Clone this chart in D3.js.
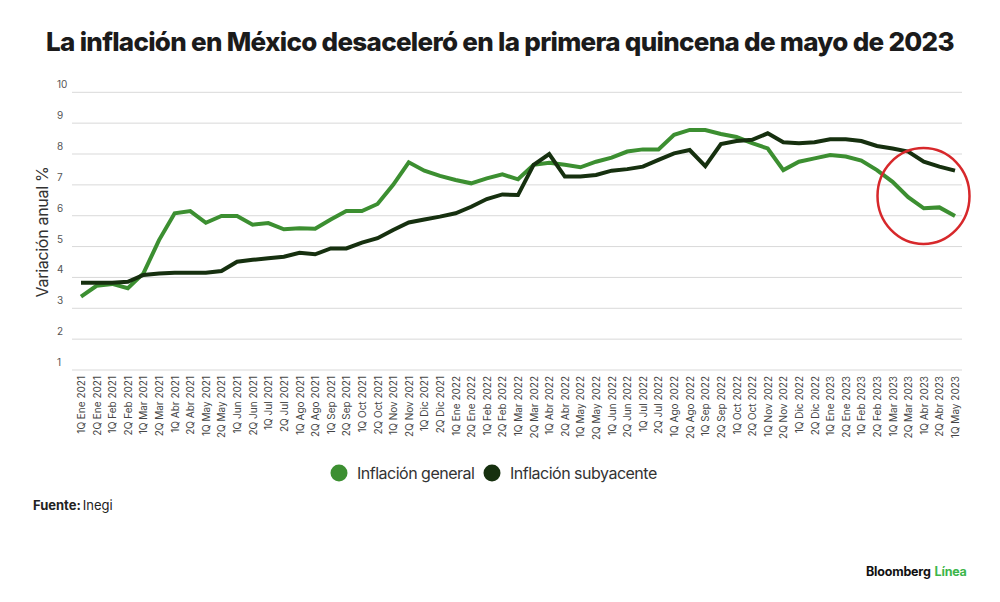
<!DOCTYPE html>
<html>
<head>
<meta charset="utf-8">
<script src="https://cdn.jsdelivr.net/npm/d3@7"></script>
<style>
  body { margin: 0; background: #fff; }
  svg { font-family: "Inter", "Roboto", sans-serif; }
</style>
</head>
<body>
<div id="chart"></div>
<script>
// data (annual % change, fortnightly)
var periods = [
  "1Q Ene 2021", "2Q Ene 2021", "1Q Feb 2021", "2Q Feb 2021", "1Q Mar 2021", "2Q Mar 2021",
  "1Q Abr 2021", "2Q Abr 2021", "1Q May 2021", "2Q May 2021", "1Q Jun 2021", "2Q Jun 2021",
  "1Q Jul 2021", "2Q Jul 2021", "1Q Ago 2021", "2Q Ago 2021", "1Q Sep 2021", "2Q Sep 2021",
  "1Q Oct 2021", "2Q Oct 2021", "1Q Nov 2021", "2Q Nov 2021", "1Q Dic 2021", "2Q Dic 2021",
  "1Q Ene 2022", "2Q Ene 2022", "1Q Feb 2022", "2Q Feb 2022", "1Q Mar 2022", "2Q Mar 2022",
  "1Q Abr 2022", "2Q Abr 2022", "1Q May 2022", "2Q May 2022", "1Q Jun 2022", "2Q Jun 2022",
  "1Q Jul 2022", "2Q Jul 2022", "1Q Ago 2022", "2Q Ago 2022", "1Q Sep 2022", "2Q Sep 2022",
  "1Q Oct 2022", "2Q Oct 2022", "1Q Nov 2022", "2Q Nov 2022", "1Q Dic 2022", "2Q Dic 2022",
  "1Q Ene 2023", "2Q Ene 2023", "1Q Feb 2023", "2Q Feb 2023", "1Q Mar 2023", "2Q Mar 2023",
  "1Q Abr 2023", "2Q Abr 2023", "1Q May 2023"
];

var general = [
  3.38, 3.73, 3.79, 3.65, 4.13, 5.21, 6.08, 6.15, 5.77, 5.99, 5.99, 5.71,
  5.76, 5.56, 5.59, 5.58, 5.88, 6.15, 6.15, 6.38, 7.00, 7.73, 7.46, 7.29,
  7.16, 7.05, 7.21, 7.34, 7.18, 7.65, 7.72, 7.65, 7.57, 7.75, 7.88, 8.08,
  8.15, 8.15, 8.62, 8.78, 8.78, 8.65, 8.55, 8.35, 8.18, 7.48, 7.75, 7.86,
  7.97, 7.92, 7.79, 7.48, 7.10, 6.60, 6.24, 6.27, 5.99
];

var subyacente = [
  3.83, 3.83, 3.83, 3.86, 4.08, 4.13, 4.15, 4.15, 4.15, 4.21, 4.51, 4.57,
  4.62, 4.67, 4.80, 4.75, 4.94, 4.94, 5.13, 5.27, 5.54, 5.78, 5.88, 5.97,
  6.08, 6.29, 6.54, 6.69, 6.67, 7.65, 8.00, 7.27, 7.27, 7.32, 7.46, 7.51,
  7.59, 7.81, 8.02, 8.13, 7.61, 8.32, 8.42, 8.46, 8.67, 8.38, 8.35, 8.38,
  8.48, 8.48, 8.42, 8.26, 8.18, 8.08, 7.75, 7.59, 7.46
];

var yTicks = [1, 2, 3, 4, 5, 6, 7, 8, 9, 10];

var seriesNames = ["Inflación general", "Inflación subyacente"];
var seriesColors = ["#3c8f31", "#16300f"];

var svgWidth = 1000;
var svgHeight = 602;

var svg = d3.select("#chart")
  .append("svg")
  .attr("width", svgWidth)
  .attr("height", svgHeight);

// title
svg.append("text")
  .attr("x", 500)
  .attr("y", 51)
  .attr("text-anchor", "middle")
  .attr("font-size", 26)
  .attr("font-weight", 800)
  .attr("letter-spacing", -0.7)
  .attr("fill", "#1b1b1b")
  .text("La inflación en México desaceleró en la primera quincena de mayo de 2023");

// scales
var xScale = d3.scalePoint()
  .domain(periods)
  .range([81, 955]);

var yScale = d3.scaleLinear()
  .domain([1, 10])
  .range([370, 92.3]);

// grid lines
var grid = svg.append("g");
grid.selectAll("line")
  .data(yTicks)
  .enter()
  .append("line")
  .attr("x1", 72)
  .attr("x2", 962)
  .attr("y1", d => yScale(d))
  .attr("y2", d => yScale(d))
  .attr("stroke", "#d9d9d9")
  .attr("stroke-width", 1);

// y tick labels sit above each grid line
grid.selectAll("text")
  .data(yTicks)
  .enter()
  .append("text")
  .attr("x", 57)
  .attr("y", d => yScale(d) - 4)
  .attr("font-size", 10)
  .attr("fill", "#555")
  .text(d => d);

// y axis title
svg.append("text")
  .attr("transform", "translate(48, 232) rotate(-90)")
  .attr("text-anchor", "middle")
  .attr("font-size", 16)
  .attr("fill", "#333")
  .attr("letter-spacing", -0.3)
  .text("Variación anual %");

// x axis labels, rotated
var xAxis = d3.axisBottom(xScale).tickSize(0).tickPadding(0);
var xAxisGroup = svg.append("g")
  .attr("transform", "translate(0, 376)")
  .call(xAxis);
xAxisGroup.select(".domain").remove();
xAxisGroup.selectAll("text")
  .attr("transform", "rotate(-90)")
  .attr("text-anchor", "end")
  .attr("x", 0)
  .attr("y", 0)
  .attr("dy", "0.35em")
  .attr("font-size", 10)
  .attr("font-family", "Inter, Roboto, sans-serif")
  .attr("fill", "#444");

// lines
var line = d3.line()
  .x((d, i) => xScale(periods[i]))
  .y(d => yScale(d));

svg.append("path")
  .datum(general)
  .attr("d", line)
  .attr("fill", "none")
  .attr("stroke", seriesColors[0])
  .attr("stroke-width", 4)
  .attr("stroke-linejoin", "miter");

svg.append("path")
  .datum(subyacente)
  .attr("d", line)
  .attr("fill", "none")
  .attr("stroke", seriesColors[1])
  .attr("stroke-width", 4)
  .attr("stroke-linejoin", "miter");

// red highlight circle around the latest readings
svg.append("ellipse")
  .attr("cx", 923.5)
  .attr("cy", 196)
  .attr("rx", 46)
  .attr("ry", 48)
  .attr("fill", "none")
  .attr("stroke", "#d7282b")
  .attr("stroke-width", 2.5);

// legend
var legend = svg.append("g");
var legendX = [339, 492];
seriesNames.forEach(function(name, i) {
  legend.append("circle")
    .attr("cx", legendX[i])
    .attr("cy", 473)
    .attr("r", 8.5)
    .attr("fill", seriesColors[i]);
  legend.append("text")
    .attr("x", legendX[i] + 18)
    .attr("y", 479)
    .attr("font-size", 16)
    .attr("letter-spacing", -0.5)
    .attr("fill", "#333")
    .text(name);
});

// source
var src = svg.append("text")
  .attr("x", 33)
  .attr("y", 510)
  .attr("font-size", 13)
  .attr("fill", "#222");
src.append("tspan").attr("font-weight", 700).text("Fuente:");
src.append("tspan").attr("dx", 2).text("Inegi");

// brand
var brand = svg.append("text")
  .attr("x", 866)
  .attr("y", 576)
  .attr("font-size", 12.5)
  .attr("font-weight", 700)
  .attr("letter-spacing", -0.2);
brand.append("tspan").attr("fill", "#111").text("Bloomberg");
brand.append("tspan").attr("dx", 4).attr("fill", "#3cb64a").text("Línea");
</script>
</body>
</html>
